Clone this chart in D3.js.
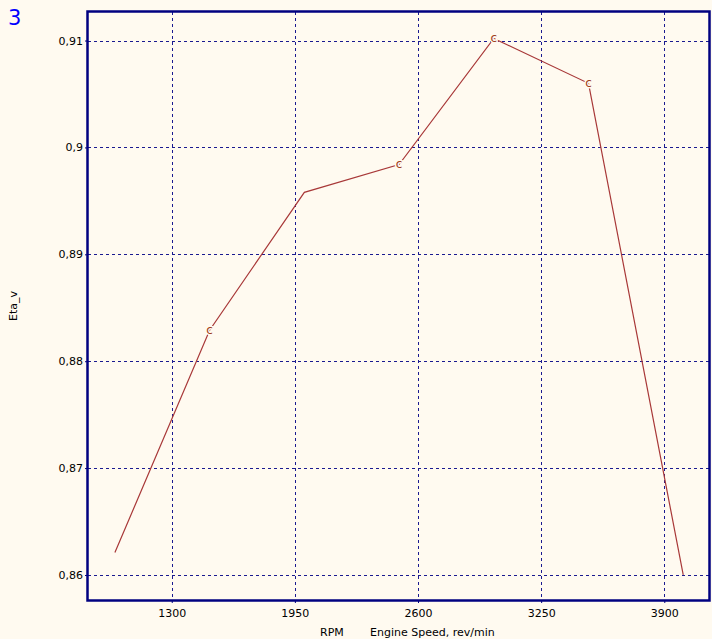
<!DOCTYPE html>
<html>
  <head>
    <meta charset="utf-8" />
    <title>Eta_v vs Engine Speed</title>
    <script src="https://d3js.org/d3.v7.min.js"></script>
    <style>
      body { margin: 0; background: #fffaf0; }
      svg { display: block; }
      text { font-family: "DejaVu Sans", sans-serif; }
    </style>
  </head>
  <body>
    <svg id="chart" width="712" height="639"></svg>
    <script>
      // Datos de la curva
      const rpm = [1000, 1500, 2000, 2500, 3000, 3500, 4000];
      const etaV = [0.8621, 0.8829, 0.8958, 0.8984, 0.9102, 0.9060, 0.8600];
      // puntos que llevan la marca "c"
      const marked = [false, true, false, true, true, true, false];

      const xTicks = [1300, 1950, 2600, 3250, 3900];
      const yTicks = [0.86, 0.87, 0.88, 0.89, 0.9, 0.91];
      const yTickLabels = ["0,86", "0,87", "0,88", "0,89", "0,9", "0,91"];

      const svg = d3.select("#chart");
      const plotLeft = 88, plotRight = 709, plotTop = 12, plotBottom = 600;

      const x = d3.scaleLinear().domain([858, 4136]).range([plotLeft, plotRight]);
      const y = d3.scaleLinear().domain([0.85766, 0.91267]).range([plotBottom, plotTop]);

      svg.append("rect")
        .attr("width", 712).attr("height", 639)
        .attr("fill", "#fffaf0");

      // Rejilla
      const grid = svg.append("g")
        .attr("stroke", "#1a1a90")
        .attr("stroke-width", 1)
        .attr("shape-rendering", "crispEdges")
        .attr("stroke-dasharray", "3,3");
      grid.selectAll(".gx").data(xTicks).enter().append("line")
        .attr("x1", d => Math.round(x(d)) + 0.5).attr("x2", d => Math.round(x(d)) + 0.5)
        .attr("y1", plotTop).attr("y2", plotBottom);
      grid.selectAll(".gy").data(yTicks).enter().append("line")
        .attr("y1", d => Math.round(y(d)) + 0.5).attr("y2", d => Math.round(y(d)) + 0.5)
        .attr("x1", plotLeft).attr("x2", plotRight);

      // Ejes
      const xAxis = svg.append("g")
        .attr("transform", `translate(0,${plotBottom})`)
        .call(d3.axisBottom(x).tickValues(xTicks).tickSize(3).tickFormat(d3.format("d")));
      const yAxis = svg.append("g")
        .attr("transform", `translate(${plotLeft},0)`)
        .call(d3.axisLeft(y).tickValues(yTicks).tickSize(3)
          .tickFormat((d, i) => yTickLabels[i]));
      [xAxis, yAxis].forEach(a => {
        a.select(".domain").remove();
        a.selectAll("line").attr("stroke", "#000080");
        a.selectAll("text").attr("fill", "#000")
          .style("font-size", "11px")
          .style("font-family", "\"DejaVu Sans\", sans-serif");
      });
      xAxis.selectAll("text").attr("dy", "0.71em").attr("y", 9);
      yAxis.selectAll("text").attr("x", -5);

      // Linea
      const line = d3.line().x(d => x(d[0])).y(d => y(d[1]));
      const pts = rpm.map((r, i) => [r, etaV[i]]);
      svg.append("path")
        .datum(pts)
        .attr("fill", "none")
        .attr("stroke", "#a83838")
        .attr("stroke-width", 1.2)
        .attr("d", line);

      // Marcas "c"
      svg.append("g").selectAll("text")
        .data(pts.filter((d, i) => marked[i]))
        .enter().append("text")
        .attr("x", d => x(d[0]))
        .attr("y", d => y(d[1]))
        .attr("text-anchor", "middle")
        .attr("dy", "0.3em")
        .attr("fill", "#a0401c")
        .attr("stroke", "#fffaf0")
        .attr("stroke-width", 3)
        .attr("paint-order", "stroke")
        .style("font-size", "12px")
        .text("c");

      // Marco
      svg.append("rect")
        .attr("x", plotLeft - 0.5).attr("y", plotTop - 0.5)
        .attr("width", plotRight - plotLeft + 1).attr("height", plotBottom - plotTop + 1)
        .attr("fill", "none")
        .attr("stroke", "#000080")
        .attr("stroke-width", 2.5);

      // Titulos
      svg.append("text")
        .attr("x", 8).attr("y", 25)
        .attr("fill", "#0000ff")
        .style("font-size", "21px")
        .text("3");
      svg.append("text")
        .attr("transform", "translate(17,306) rotate(-90)")
        .attr("text-anchor", "middle")
        .style("font-size", "11px")
        .text("Eta_v");
      svg.append("text")
        .attr("x", 320).attr("y", 636)
        .style("font-size", "11px")
        .text("RPM");
      svg.append("text")
        .attr("x", 370).attr("y", 636)
        .style("font-size", "11px")
        .text("Engine Speed, rev/min");
    </script>
  </body>
</html>
